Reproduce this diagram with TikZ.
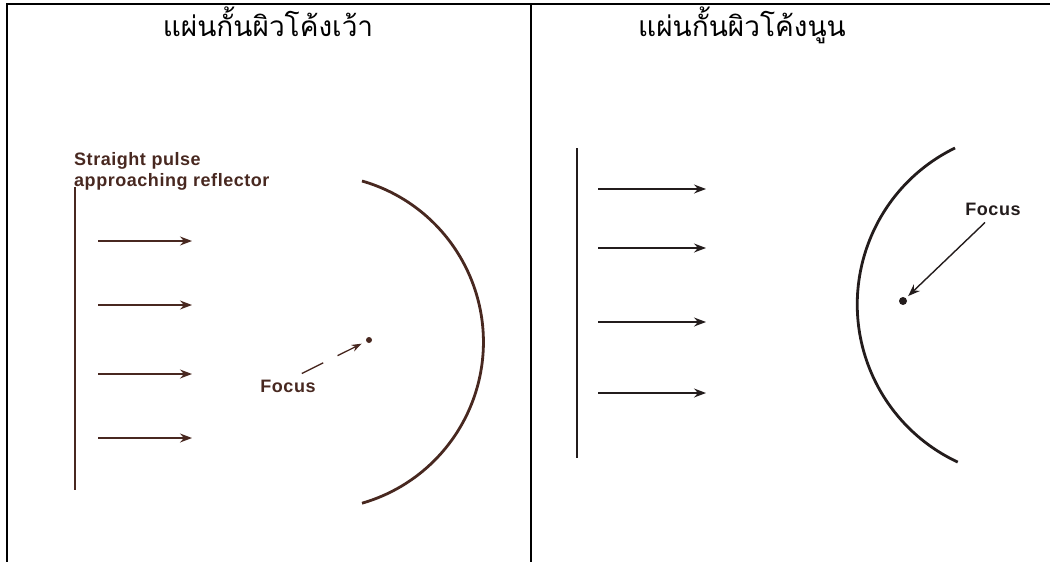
\documentclass[tikz,border=0pt]{standalone}
\usepackage{fontspec}
\setmainfont{Liberation Sans}
\newfontfamily\thaifont[Script=Thai]{Loma}
\usepackage{xcolor}
\usetikzlibrary{positioning, arrows.meta}

\definecolor{inkL}{RGB}{72,40,32}
\definecolor{inkR}{RGB}{35,28,28}

\tikzset{
    title/.style={font=\thaifont\fontsize{28}{32}\selectfont, anchor=base},
    lbl/.style={font=\addfontfeature{LetterSpace=3}\bfseries\fontsize{18}{21}\selectfont, inner sep=0pt},
    pulse/.style={line width=2.4pt},
    mirror/.style={line width=2.8pt},
    ray/.style={line width=1.4pt, -{Stealth[length=12pt, width=9pt, inset=4pt]}},
    dot/.style={circle, fill, inner sep=0pt, minimum size=#1}
}

\begin{document}
\begin{tikzpicture}[x=1pt, y=-1pt]
        \useasboundingbox (0,0) rectangle (1050,562);

        % table frame
        \draw[line width=2.6pt] (7,562) -- (7,4) -- (1050,4);
        \draw[line width=2.6pt] (531,4) -- (531,562);

        \node[title] (t1) at (268,36) {แผ่นกั้นผิวโค้งเว้า};
        \node[title] (t2) at (742,36) {แผ่นกั้นผิวโค้งนูน};

        % concave side
        \node[lbl, text=inkL, anchor=north west, align=left] (txt) at (74,152) {Straight pulse\\approaching reflector};
        \coordinate (pL1) at (75,187);
        \coordinate (pL2) at (75,490);
        \draw[pulse, inkL] (pL1) -- (pL2);

        \foreach \i/\y in {1/241, 2/305, 3/374, 4/438} {
            \coordinate (aL\i) at (98,\y);
            \coordinate (bL\i) at (192,\y);
            \draw[ray, inkL] (aL\i) -- (bL\i);
        }

        \coordinate (mL) at (362,181);
        \draw[mirror, inkL] (mL) arc[start angle=-74, end angle=74, radius=167.6];

        \node[dot=6pt, inkL] (dL) at (369,340) {};
        \node[lbl, text=inkL] (fL) at (288,386) {Focus};
        \draw[inkL, line width=1.3pt, dash pattern=on 24pt off 16pt, -{Stealth[length=10pt, width=7pt, inset=3pt]}, shorten >=5pt]
            (fL.north east) ++(-14,-6) -- (dL);

        % convex side
        \coordinate (pR1) at (577,148);
        \coordinate (pR2) at (577,458);
        \draw[pulse, inkR] (pR1) -- (pR2);

        \foreach \i/\y in {1/189, 2/248, 3/322, 4/393} {
            \coordinate (aR\i) at (598,\y);
            \coordinate (bR\i) at (706,\y);
            \draw[ray, inkR] (aR\i) -- (bR\i);
        }

        \coordinate (mR) at (955,148);
        \draw[mirror, inkR] (mR) arc[start angle=244, end angle=115, radius=174];

        \node[dot=8pt, inkR] (dR) at (903,301) {};
        \node[lbl, text=inkR] (fR) at (993,209) {Focus};
        \draw[ray, inkR, shorten >=3pt] (fR.south) ++(-8,7) -- (dR);

\end{tikzpicture}
\end{document}
